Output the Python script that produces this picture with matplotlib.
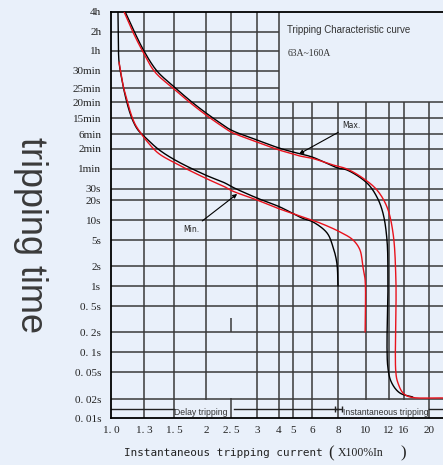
import numpy as np
import matplotlib
matplotlib.use("Agg")
import matplotlib.pyplot as plt

# ---------------- data ----------------
# current multiples (x In) and tick labels on the current axis
x_ticks = [1.0, 1.3, 1.5, 2.0, 2.5, 3.0, 4.0, 5.0, 6.0, 8.0, 10.0, 12.0, 16.0, 20.0]
x_labels = ["1. 0", "1. 3", "1. 5", "2", "2. 5", "3", "4", "5", "6", "8", "10", "12", "16", "20"]
x_edge = 24.0

# tripping time ticks (seconds) and labels
t_ticks = [0.01, 0.02, 0.05, 0.1, 0.2, 0.5, 1, 2, 5, 10, 20, 30, 60, 120, 360,
           900, 1200, 1500, 1800, 3600, 7200, 14400]
t_labels = ["0. 01s", "0. 02s", "0. 05s", "0. 1s", "0. 2s", "0. 5s", "1s", "2s", "5s",
            "10s", "20s", "30s", "1min", "2min", "6min", "15min", "20min", "25min",
            "30min", "1h", "2h", "4h"]

# upper limit curve (black / red)
max_black_i = [1.12, 1.20, 1.30, 1.383, 1.50, 1.76, 2.0, 2.27, 2.5, 3.0, 4.0, 5.0, 6.0,
               8.0, 8.59, 10.08, 10.9, 11.44, 11.81, 11.9, 11.9, 12.7, 14.8, 17.3]
max_black_t = [14400, 7470, 3600, 1800, 1520, 1200, 985, 676, 453, 232, 129, 108, 91,
               62, 58, 36.9, 22.4, 12.7, 5.0, 1.23, 0.057, 0.034, 0.0245, 0.0214]

max_red_i = [1.11, 1.19, 1.29, 1.37, 1.50, 1.76, 2.0, 2.27, 2.5, 3.0, 4.0, 5.0, 5.35, 6.0,
             7.57, 8.59, 9.76, 10.9, 11.81, 12.96, 13.7, 13.7, 14.25, 15.7, 16.9, 24.0]
max_red_t = [14400, 7200, 3480, 1780, 1476, 1157, 950, 603, 405, 200, 116, 101, 94, 87,
             69, 60, 43.7, 29.0, 15.7, 6.37, 1.23, 0.048, 0.0344, 0.0245, 0.0214, 0.0207]

# lower limit curve (black / red)
min_black_i = [1.057, 1.06, 1.066, 1.091, 1.118, 1.154, 1.191, 1.239, 1.306, 1.39, 1.513,
               1.99, 2.37, 2.52, 3.0, 4.06, 5.45, 6.07, 7.09, 7.57, 7.9, 8.0]
min_black_t = [14400, 5000, 2450, 1634, 1342, 1039, 758, 453, 289, 120, 82,
               48.7, 36.9, 32.2, 21.5, 15.7, 10.7, 9.33, 6.37, 3.91, 2.22, 1.0]

min_red_i = [1.066, 1.100, 1.136, 1.172, 1.210, 1.259, 1.312, 1.39, 1.513, 1.99, 2.37,
             2.52, 3.0, 4.06, 5.35, 6.56, 8.13, 9.02, 9.53, 9.76, 9.93, 9.93]
min_red_t = [2450, 1550, 1239, 969, 639, 405, 232, 104.5, 73.9, 43.7, 32.2,
             28.0, 20, 14.6, 11.5, 9.0, 6.6, 5.0, 3.52, 1.93, 1.23, 0.2]

# ---------------- layout of the printed grid ----------------
# grid spacing of the chart paper (pixel-like units from the lower-left corner)
x_grid_pos = [0, 33, 63, 95, 120, 146, 168, 182, 201, 227, 255, 278, 293, 318, 332]
t_grid_pos = [0, 19, 46, 66, 86, 112, 132, 152, 178, 198, 218, 229, 249, 269, 284,
              300, 316, 330, 347, 367, 386, 406]

BG = "#e9f0fa"
GRID = "#3a3a3a"
RED = "#e8121c"

_lx = np.log10(x_ticks + [x_edge])
_px = np.array(x_grid_pos, float)
_lt = np.log10(t_ticks)
_pt = np.array(t_grid_pos, float)


def x_fwd(v):
    v = np.clip(np.asarray(v, float), 1e-9, None)
    return np.interp(np.log10(v), _lx, _px)


def x_inv(p):
    return 10 ** np.interp(np.asarray(p, float), _px, _lx)


def t_fwd(v):
    v = np.clip(np.asarray(v, float), 1e-12, None)
    return np.interp(np.log10(v), _lt, _pt)


def t_inv(p):
    return 10 ** np.interp(np.asarray(p, float), _pt, _lt)


def smooth(xs, ys, n=14):
    """Centripetal Catmull-Rom through the points, done in the chart's own grid space."""
    P = np.column_stack([x_fwd(xs), t_fwd(ys)])
    P = np.vstack([2 * P[0] - P[1], P, 2 * P[-1] - P[-2]])
    out = []
    for i in range(1, len(P) - 2):
        p0, p1, p2, p3 = P[i - 1], P[i], P[i + 1], P[i + 2]

        def nxt(t, a, b):
            return t + max(np.linalg.norm(b - a), 1e-6) ** 0.5

        t0 = 0.0
        t1 = nxt(t0, p0, p1)
        t2 = nxt(t1, p1, p2)
        t3 = nxt(t2, p2, p3)
        t = np.linspace(t1, t2, n, endpoint=False)[:, None]
        a1 = (t1 - t) / (t1 - t0) * p0 + (t - t0) / (t1 - t0) * p1
        a2 = (t2 - t) / (t2 - t1) * p1 + (t - t1) / (t2 - t1) * p2
        a3 = (t3 - t) / (t3 - t2) * p2 + (t - t2) / (t3 - t2) * p3
        b1 = (t2 - t) / (t2 - t0) * a1 + (t - t0) / (t2 - t0) * a2
        b2 = (t3 - t) / (t3 - t1) * a2 + (t - t1) / (t3 - t1) * a3
        c = (t2 - t) / (t2 - t1) * b1 + (t - t1) / (t2 - t1) * b2
        out.append(c)
    out.append(P[-2][None, :])
    Q = np.vstack(out)
    return x_inv(Q[:, 0]), t_inv(Q[:, 1])


# ---------------- figure ----------------
fig = plt.figure(figsize=(4.43, 4.65), dpi=100, facecolor=BG)
ax = fig.add_axes([111 / 443, 47 / 465, 332 / 443, 406 / 465])
ax.set_facecolor(BG)
ax.set_xscale("function", functions=(x_fwd, x_inv))
ax.set_yscale("function", functions=(t_fwd, t_inv))
ax.set_xlim(1.0, x_edge)
ax.set_ylim(0.01, 14400)

# grid of the chart paper
T_TOP, T_BOT = 14400, 0.01
v_spans = {
    1.3: [(T_BOT, T_TOP)],
    1.5: [(T_BOT, T_TOP)],
    2.0: [(0.019, T_TOP)],
    2.5: [(5, T_TOP), (0.2, 0.33), (T_BOT, 0.021)],
    3.0: [(T_BOT, T_TOP)],
    4.0: [(T_BOT, T_TOP)],
    5.0: [(T_BOT, 1200)],
    6.0: [(T_BOT, 1200)],
    8.0: [(T_BOT, 1200)],
    10.0: [(0.019, 1200)],
    12.0: [(0.019, 1200)],
    16.0: [(0.019, 1200)],
    20.0: [(T_BOT, 1200)],
}
for xv, spans in v_spans.items():
    for lo, hi in spans:
        ax.plot([xv, xv], [lo, hi], color=GRID, lw=1.1, zorder=1, solid_capstyle="butt")

for tv in t_ticks[1:-1]:
    x_right = 4.0 if tv in (1500, 1800, 3600, 7200) else x_edge
    ax.plot([1.0, x_right], [tv, tv], color=GRID, lw=1.1, zorder=1, solid_capstyle="butt")

# delay / instantaneous band line at the bottom
band_t = 0.014
for a, b in [(1.0, 1.5), (2.55, 8.0), (20.0, x_edge)]:
    ax.plot([a, b], [band_t, band_t], color="#222222", lw=1.0, zorder=2)
ax.plot([7.75, 8.25], [band_t, band_t], color="#222222", lw=1.0, marker="|",
        markersize=4, markeredgewidth=1.0, zorder=2)

# curves
for xs, ys, col in [(min_black_i, min_black_t, "black"), (max_black_i, max_black_t, "black"),
                    (min_red_i, min_red_t, RED), (max_red_i, max_red_t, RED)]:
    sx, sy = smooth(xs, ys)
    ax.plot(sx, sy, color=col, lw=1.0, zorder=4, solid_capstyle="round")

# annotations
ax.annotate("Max.", xy=(5.3, 101), xytext=(8.9, 600), fontsize=5.5, family="DejaVu Sans",
            ha="center", va="center", color="#222222",
            arrowprops=dict(arrowstyle="-|>", color="black", lw=0.8,
                            mutation_scale=6, shrinkA=1, shrinkB=0), zorder=5)
ax.annotate("Min.", xy=(2.61, 25), xytext=(1.76, 7.3), fontsize=5.5, family="DejaVu Sans",
            ha="center", va="center", color="#222222",
            arrowprops=dict(arrowstyle="-|>", color="black", lw=0.8,
                            mutation_scale=6, shrinkA=1, shrinkB=0), zorder=5)

ax.text(0.530, 0.955, "Tripping Characteristic curve", transform=ax.transAxes,
        fontsize=7, family="Liberation Sans", color="#333333", ha="left", va="center")
ax.text(0.533, 0.899, "63A~160A", transform=ax.transAxes,
        fontsize=7, family="Liberation Serif", color="#333333", ha="left", va="center")
ax.text(0.190, 0.0135, "Delay tripping", transform=ax.transAxes,
        fontsize=6.2, family="Liberation Sans", color="#333333", ha="left", va="center")
ax.text(0.699, 0.0125, "Instantaneous tripping", transform=ax.transAxes,
        fontsize=6.2, family="Liberation Sans", color="#333333", ha="left", va="center")

# ticks
ax.set_xticks(x_ticks)
ax.set_xticklabels(x_labels)
ax.set_yticks(t_ticks)
ax.set_yticklabels(t_labels)
ax.minorticks_off()
ax.tick_params(axis="both", length=0, labelsize=8, colors="#222222")
ax.tick_params(axis="y", pad=7)
ax.tick_params(axis="x", pad=6)
for lab in ax.get_xticklabels() + ax.get_yticklabels():
    lab.set_family("Liberation Serif")

for side in ("left", "top", "bottom"):
    ax.spines[side].set_color("black")
    ax.spines[side].set_linewidth(1.3)
ax.spines["right"].set_visible(False)

# axis titles
fig.text(30 / 443, 1 - 235 / 465, "tripping time", rotation=270, fontsize=26,
         family="Liberation Sans", color="#3a3a3a", ha="center", va="center")
yl = 1 - 453 / 465
fig.text(124 / 443, yl, "Instantaneous tripping current", family="DejaVu Sans Mono",
         fontsize=7.9, color="#222222", ha="left", va="center")
fig.text(331 / 443, yl, "(", family="Liberation Serif", fontsize=12,
         color="#222222", ha="center", va="center")
fig.text(338 / 443, yl, "X100%In", family="Liberation Serif", fontsize=8.5,
         color="#222222", ha="left", va="center")
fig.text(403 / 443, yl, ")", family="Liberation Serif", fontsize=12,
         color="#222222", ha="center", va="center")

fig.savefig("out.png", dpi=100, facecolor=BG)
